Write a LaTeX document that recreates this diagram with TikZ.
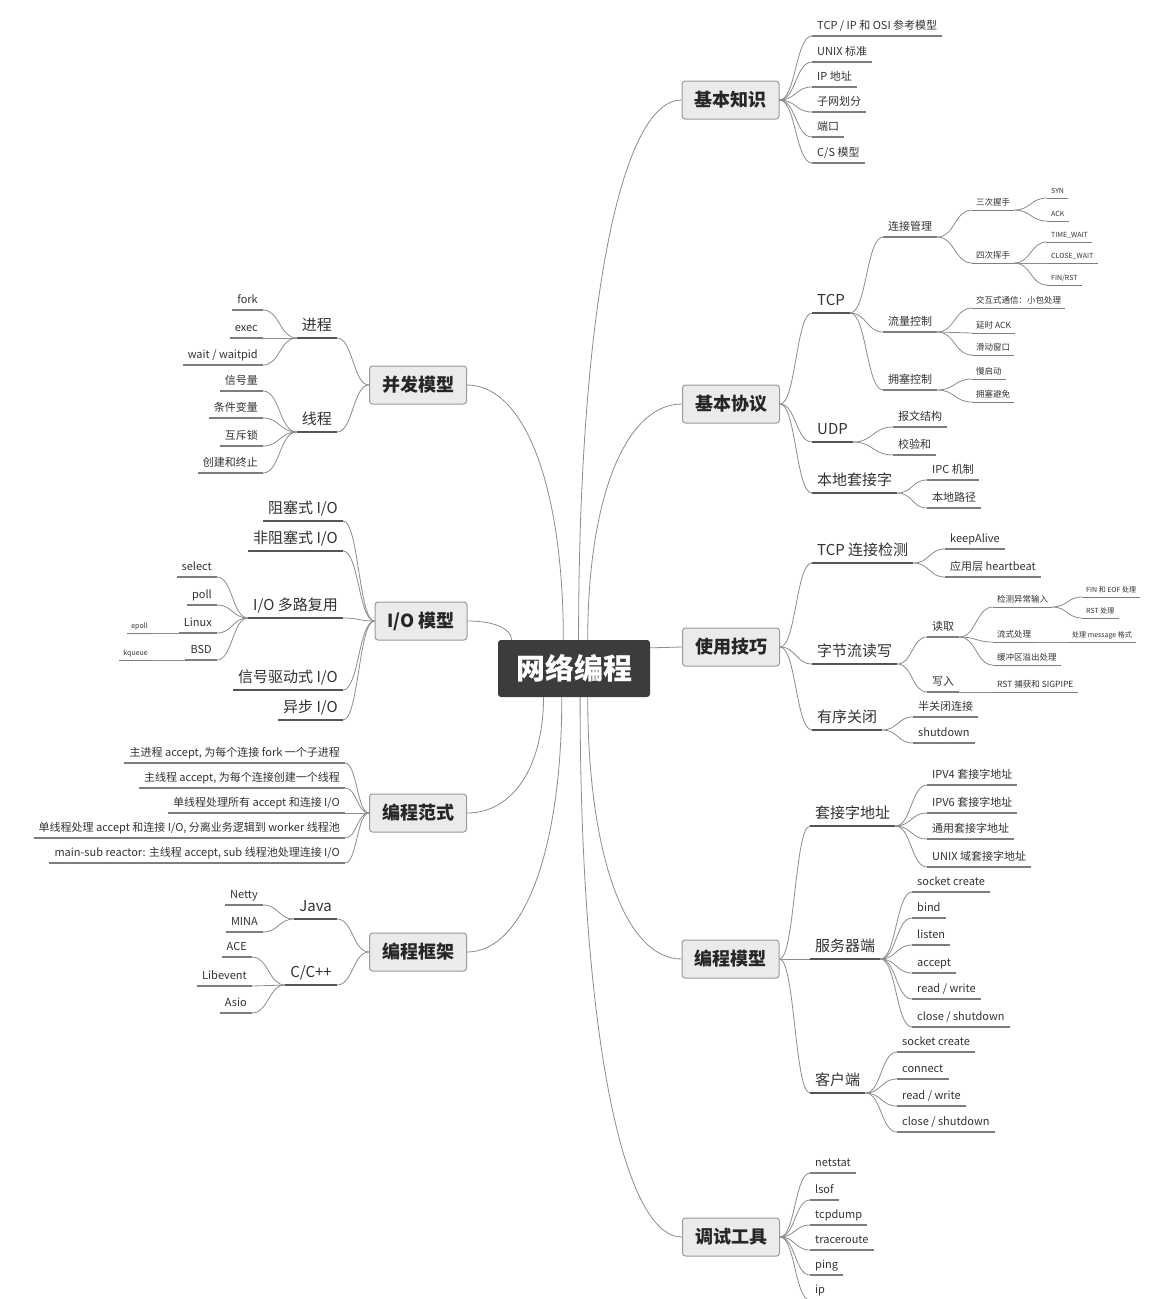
\documentclass[tikz,border=0pt]{standalone}
\usepackage{fontspec}
\setmainfont{Noto Sans CJK SC}
\usetikzlibrary{calc}
\definecolor{lnc}{HTML}{8C8C8C}
\definecolor{ulc}{HTML}{7E7E7E}
\definecolor{uldark}{HTML}{555555}
\definecolor{boxfill}{HTML}{EBEBEB}
\definecolor{boxline}{HTML}{9A9A9A}
\definecolor{ctrfill}{HTML}{3C3C3C}
\definecolor{txt}{HTML}{333333}
\newcommand\mmlink[2]{\draw[conn] (#1) .. controls ($(#1)!0.5!(#2|-#1)$) and ($(#2)!0.5!(#1|-#2)$) .. (#2);}
\newcommand\mmvlink[2]{\draw[conn] (#1) .. controls ($(#1)!0.6!(#1|-#2)$) and ($(#2)!0.6!(#1|-#2)$) .. (#2);}
\begin{document}
\begin{tikzpicture}[x=1pt,y=-1pt,
  conn/.style={draw=lnc, line width=0.8pt},
  topic/.style={draw=boxline, fill=boxfill, rounded corners=3pt, line width=1pt, minimum width=97pt, minimum height=38pt, inner sep=0pt, text=black!85, font=\fontsize{18}{20}\selectfont\bfseries},
  ctrbox/.style={fill=ctrfill, rounded corners=3pt, minimum width=152pt, minimum height=57pt, inner sep=0pt, text=white, font=\fontsize{29}{32}\selectfont\bfseries},
  lv2/.style={font=\fontsize{15}{18}\selectfont, text height=12pt, text depth=3pt, inner xsep=5pt, inner ysep=4.3pt, text=txt},
  lv3/.style={font=\fontsize{11}{13}\selectfont, text height=8.8pt, text depth=2.2pt, inner xsep=5pt, inner ysep=3.8pt, text=txt},
  lv4/.style={font=\fontsize{8.5}{10}\selectfont, text height=6.8pt, text depth=1.7pt, inner xsep=4pt, inner ysep=3.1pt, text=txt},
  lv5/.style={font=\fontsize{7}{8}\selectfont, text height=5.6pt, text depth=1.4pt, inner xsep=4pt, inner ysep=2.9pt, text=txt},
  R/.style={anchor=south west}, L/.style={anchor=south east},
  ulthick/.style={draw=uldark, line width=2pt},
  ulnorm/.style={draw=ulc, line width=1.1pt},
  ulthin/.style={draw=ulc, line width=0.9pt}]
\useasboundingbox (0,0) rectangle (1160,1299);
\fill[white] (0,0) rectangle (1160,1299);

% ---- center and topics ----
\node[ctrbox] (ctr) at (574,668.5) {网络编程};
\node[topic] (bz) at (730.5,100) {基本知识};
\node[topic] (bp) at (731,404) {基本协议};
\node[topic] (sy) at (731,647) {使用技巧};
\node[topic] (bm) at (730.5,959) {编程模型};
\node[topic] (dt) at (731,1237) {调试工具};
\node[topic] (bf) at (418,385) {并发模型};
\node[topic, minimum width=92pt] (io) at (421,621) {I/O 模型};
\node[topic] (fs) at (418,813) {编程范式};
\node[topic] (kj) at (418,952) {编程框架};

% ---- 基本知识 ----
\node[lv3,R] (k1) at (812,36) {TCP / IP 和 OSI 参考模型};
\node[lv3,R] (k2) at (812,62) {UNIX 标准};
\node[lv3,R] (k3) at (812,87) {IP 地址};
\node[lv3,R] (k4) at (812,112) {子网划分};
\node[lv3,R] (k5) at (812,137) {端口};
\node[lv3,R] (k6) at (812,163) {C/S 模型};

% ---- 基本协议 ----
\node[lv2,R] (tcp) at (812,313) {TCP};
\node[lv2,R] (udp) at (812,442) {UDP};
\node[lv2,R] (lsock) at (812,493) {本地套接字};
\node[lv3,R] (conn) at (883,237) {连接管理};
\node[lv3,R] (flow) at (883,332) {流量控制};
\node[lv3,R] (cong) at (883,390) {拥塞控制};
\node[lv4,R] (hs3) at (972,210) {三次握手};
\node[lv4,R] (hs4) at (972,263) {四次挥手};
\node[lv5,R] (syn) at (1047,198) {SYN};
\node[lv5,R] (ack) at (1047,221) {ACK};
\node[lv5,R] (tw) at (1047,242) {TIME\_WAIT};
\node[lv5,R] (cw) at (1047,263) {CLOSE\_WAIT};
\node[lv5,R] (fr) at (1047,285) {FIN/RST};
\node[lv4,R] (f1) at (972,308) {交互式通信：小包处理};
\node[lv4,R] (f2) at (972,333) {延时 ACK};
\node[lv4,R] (f3) at (972,355) {滑动窗口};
\node[lv4,R] (g1) at (972,379) {慢启动};
\node[lv4,R] (g2) at (972,402) {拥塞避免};
\node[lv3,R] (u1) at (893,427) {报文结构};
\node[lv3,R] (u2) at (893,455) {校验和};
\node[lv3,R] (lo1) at (927,480) {IPC 机制};
\node[lv3,R] (lo2) at (927,508) {本地路径};

% ---- 使用技巧 ----
\node[lv2,R] (det) at (812,563) {TCP 连接检测};
\node[lv2,R] (bsrw) at (812,664) {字节流读写};
\node[lv2,R] (oclose) at (812,730) {有序关闭};
\node[lv3,R] (ka) at (945,549) {keepAlive};
\node[lv3,R] (hb) at (945,577) {应用层 heartbeat};
\node[lv3,R] (rd) at (927,637) {读取};
\node[lv3,R] (wr) at (927,692) {写入};
\node[lv4,R] (r1) at (993,607) {检测异常输入};
\node[lv4,R] (r2) at (993,642) {流式处理};
\node[lv4,R] (r3) at (993,665) {缓冲区溢出处理};
\node[lv4,R] (w1) at (993,692) {RST 捕获和 SIGPIPE};
\node[lv5,R] (e1) at (1082,597) {FIN 和 EOF 处理};
\node[lv5,R] (e2) at (1082,618) {RST 处理};
\node[lv5,R] (msg) at (1068,642) {处理 message 格式};
\node[lv3,R] (h1) at (913,717) {半关闭连接};
\node[lv3,R] (h2) at (913,743) {shutdown};

% ---- 编程模型 ----
\node[lv2,R] (sa) at (810,826) {套接字地址};
\node[lv2,R] (sv) at (810,959) {服务器端};
\node[lv2,R] (cli) at (810,1093) {客户端};
\node[lv3,R] (a1) at (927,785) {IPV4 套接字地址};
\node[lv3,R] (a2) at (927,813) {IPV6 套接字地址};
\node[lv3,R] (a3) at (927,839) {通用套接字地址};
\node[lv3,R] (a4) at (927,867) {UNIX 域套接字地址};
\node[lv3,R] (s1) at (912,892) {socket create};
\node[lv3,R] (s2) at (912,918) {bind};
\node[lv3,R] (s3) at (912,945) {listen};
\node[lv3,R] (s4) at (912,973) {accept};
\node[lv3,R] (s5) at (912,999) {read / write};
\node[lv3,R] (s6) at (912,1027) {close / shutdown};
\node[lv3,R] (cl1) at (897,1052) {socket create};
\node[lv3,R] (cl2) at (897,1079) {connect};
\node[lv3,R] (cl3) at (897,1106) {read / write};
\node[lv3,R] (cl4) at (897,1132) {close / shutdown};

% ---- 调试工具 ----
\node[lv3,R] (t1) at (810,1173) {netstat};
\node[lv3,R] (t2) at (810,1200) {lsof};
\node[lv3,R] (t3) at (810,1225) {tcpdump};
\node[lv3,R] (t4) at (810,1250) {traceroute};
\node[lv3,R] (t5) at (810,1275) {ping};
\node[lv3,R] (t6) at (810,1300) {ip};

% ---- 并发模型 ----
\node[lv2,L] (proc) at (337,338) {进程};
\node[lv2,L] (thr) at (337,432) {线程};
\node[lv3,L] (p1) at (263,310) {fork};
\node[lv3,L] (p2) at (263,338) {exec};
\node[lv3,L] (p3) at (263,365) {wait / waitpid};
\node[lv3,L] (th1) at (263,391) {信号量};
\node[lv3,L] (th2) at (263,418) {条件变量};
\node[lv3,L] (th3) at (263,446) {互斥锁};
\node[lv3,L] (th4) at (263,473) {创建和终止};

% ---- I/O 模型 ----
\node[lv2,L] (io1) at (343,521) {阻塞式 I/O};
\node[lv2,L] (io2) at (343,551) {非阻塞式 I/O};
\node[lv2,L] (io3) at (343,618) {I/O 多路复用};
\node[lv2,L] (io4) at (343,690) {信号驱动式 I/O};
\node[lv2,L] (io5) at (343,720) {异步 I/O};
\node[lv3,L] (mx1) at (217,577) {select};
\node[lv3,L] (mx2) at (217,605) {poll};
\node[lv3,L] (mx3) at (217,633) {Linux};
\node[lv3,L] (mx4) at (217,660) {BSD};
\node[lv5,L] (ep) at (152,633) {epoll};
\node[lv5,L] (kq) at (152,660) {kqueue};

% ---- 编程范式 ----
\node[lv3,L] (pa1) at (345,763) {主进程 accept, 为每个连接 fork 一个子进程};
\node[lv3,L] (pa2) at (345,788) {主线程 accept, 为每个连接创建一个线程};
\node[lv3,L] (pa3) at (345,813) {单线程处理所有 accept 和连接 I/O};
\node[lv3,L] (pa4) at (345,838) {单线程处理 accept 和连接 I/O, 分离业务逻辑到 worker 线程池};
\node[lv3,L] (pa5) at (345,863) {main-sub reactor: 主线程 accept, sub 线程池处理连接 I/O};

% ---- 编程框架 ----
\node[lv2,L] (java) at (337,919) {Java};
\node[lv2,L] (cpp) at (337,985) {C/C++};
\node[lv3,L] (n1) at (263,905) {Netty};
\node[lv3,L] (n2) at (263,932) {MINA};
\node[lv3,L] (cc1) at (252,957) {ACE};
\node[lv3,L] (cc2) at (252,986) {Libevent};
\node[lv3,L] (cc3) at (252,1013) {Asio};

% ---- center connectors ----
\coordinate (ct1) at ($(ctr.north west)!0.53!(ctr.north east)$);
\coordinate (ct2) at ($(ctr.north west)!0.59!(ctr.north east)$);
\coordinate (ct3) at ($(ctr.north west)!0.43!(ctr.north east)$);
\coordinate (ct4) at ($(ctr.north west)!0.09!(ctr.north east)$);
\coordinate (cb1) at ($(ctr.south west)!0.59!(ctr.south east)$);
\coordinate (cb2) at ($(ctr.south west)!0.54!(ctr.south east)$);
\coordinate (cb3) at ($(ctr.south west)!0.30!(ctr.south east)$);
\coordinate (cb4) at ($(ctr.south west)!0.42!(ctr.south east)$);
\coordinate (cr) at ($(ctr.north east)!0.14!(ctr.south east)$);
\mmvlink{ct1}{bz.west}
\mmvlink{ct2}{bp.west}
\mmvlink{ct3}{bf.east}
\mmvlink{ct4}{io.east}
\mmvlink{cb1}{bm.west}
\mmvlink{cb2}{dt.west}
\mmvlink{cb3}{fs.east}
\mmvlink{cb4}{kj.east}
\mmlink{cr}{sy.west}

% ---- right side connectors ----
\foreach \c in {k1,k2,k3,k4,k5,k6} {\mmlink{bz.east}{\c.south west}}
\foreach \c in {tcp,udp,lsock} {\mmlink{bp.east}{\c.south west}}
\foreach \c in {conn,flow,cong} {\mmlink{tcp.south east}{\c.south west}}
\foreach \c in {hs3,hs4} {\mmlink{conn.south east}{\c.south west}}
\foreach \c in {syn,ack} {\mmlink{hs3.south east}{\c.south west}}
\foreach \c in {tw,cw,fr} {\mmlink{hs4.south east}{\c.south west}}
\foreach \c in {f1,f2,f3} {\mmlink{flow.south east}{\c.south west}}
\foreach \c in {g1,g2} {\mmlink{cong.south east}{\c.south west}}
\foreach \c in {u1,u2} {\mmlink{udp.south east}{\c.south west}}
\foreach \c in {lo1,lo2} {\mmlink{lsock.south east}{\c.south west}}
\foreach \c in {det,bsrw,oclose} {\mmlink{sy.east}{\c.south west}}
\foreach \c in {ka,hb} {\mmlink{det.south east}{\c.south west}}
\foreach \c in {rd,wr} {\mmlink{bsrw.south east}{\c.south west}}
\foreach \c in {r1,r2,r3} {\mmlink{rd.south east}{\c.south west}}
\mmlink{wr.south east}{w1.south west}
\foreach \c in {e1,e2} {\mmlink{r1.south east}{\c.south west}}
\mmlink{r2.south east}{msg.south west}
\foreach \c in {h1,h2} {\mmlink{oclose.south east}{\c.south west}}
\foreach \c in {sa,sv,cli} {\mmlink{bm.east}{\c.south west}}
\foreach \c in {a1,a2,a3,a4} {\mmlink{sa.south east}{\c.south west}}
\foreach \c in {s1,s2,s3,s4,s5,s6} {\mmlink{sv.south east}{\c.south west}}
\foreach \c in {cl1,cl2,cl3,cl4} {\mmlink{cli.south east}{\c.south west}}
\foreach \c in {t1,t2,t3,t4,t5,t6} {\mmlink{dt.east}{\c.south west}}

% ---- left side connectors ----
\foreach \c in {proc,thr} {\mmlink{bf.west}{\c.south east}}
\foreach \c in {p1,p2,p3} {\mmlink{proc.south west}{\c.south east}}
\foreach \c in {th1,th2,th3,th4} {\mmlink{thr.south west}{\c.south east}}
\foreach \c in {io1,io2,io3,io4,io5} {\mmlink{io.west}{\c.south east}}
\foreach \c in {mx1,mx2,mx3,mx4} {\mmlink{io3.south west}{\c.south east}}
\mmlink{mx3.south west}{ep.south east}
\mmlink{mx4.south west}{kq.south east}
\foreach \c in {pa1,pa2,pa3,pa4,pa5} {\mmlink{fs.west}{\c.south east}}
\foreach \c in {java,cpp} {\mmlink{kj.west}{\c.south east}}
\foreach \c in {n1,n2} {\mmlink{java.south west}{\c.south east}}
\foreach \c in {cc1,cc2,cc3} {\mmlink{cpp.south west}{\c.south east}}

% ---- underlines ----
\foreach \n in {tcp,udp,lsock,det,bsrw,oclose,sa,sv,cli,proc,thr,io1,io2,io3,io4,io5,java,cpp}
  {\draw[ulthick] (\n.south west) -- (\n.south east);}
\foreach \n in {k1,k2,k3,k4,k5,k6,conn,flow,cong,u1,u2,lo1,lo2,ka,hb,rd,wr,h1,h2,a1,a2,a3,a4,s1,s2,s3,s4,s5,s6,cl1,cl2,cl3,cl4,t1,t2,t3,t4,t5,t6,p1,p2,p3,th1,th2,th3,th4,mx1,mx2,mx3,mx4,pa1,pa2,pa3,pa4,pa5,n1,n2,cc1,cc2,cc3}
  {\draw[ulnorm] (\n.south west) -- (\n.south east);}
\foreach \n in {hs3,hs4,syn,ack,tw,cw,fr,f1,f2,f3,g1,g2,r1,r2,r3,w1,e1,e2,msg,ep,kq}
  {\draw[ulthin] (\n.south west) -- (\n.south east);}
\end{tikzpicture}
\end{document}
